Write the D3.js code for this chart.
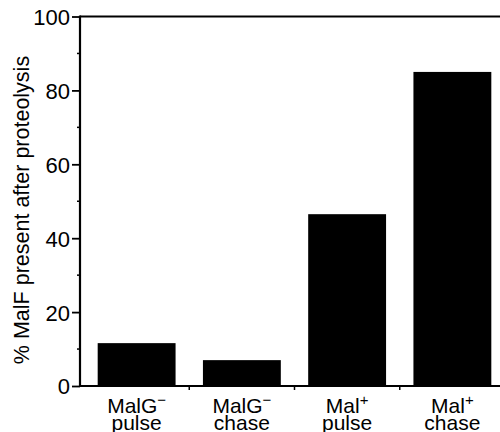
<!DOCTYPE html>
<html><head><meta charset="utf-8">
<script src="https://cdn.jsdelivr.net/npm/d3@7"></script>
<style>body{margin:0;background:#fff}svg{display:block}text{font-family:"Liberation Sans",Arial,sans-serif;fill:#000}</style>
</head><body>
<svg id="c" width="500" height="432"></svg>
<script>
const categories = ["MalG pulse", "MalG chase", "Mal pulse", "Mal chase"];
const labelTop = ["MalG", "MalG", "Mal", "Mal"];
const labelSup = ["\u2212", "\u2212", "+", "+"];
const labelBottom = ["pulse", "chase", "pulse", "chase"];
const values = [11.6, 7.0, 46.5, 85.0];
const yTicks = [0, 20, 40, 60, 80, 100];
const yMinor = [10, 30, 50, 70, 90];
const yTitle = "% MalF present after proteolysis";

const svg = d3.select("#c");
const x0 = 80, xEnd = 500;
const x = d3.scaleBand().domain(categories).range([84, 505]).paddingInner(0.26).paddingOuter(0.13);
const y = d3.scaleLinear().domain([0, 100]).range([386, 16.5]);

// bars
svg.selectAll("rect.bar").data(values).join("rect")
  .attr("x", (d, i) => x(categories[i])).attr("width", x.bandwidth())
  .attr("y", d => y(d)).attr("height", d => y(0) - y(d)).attr("fill", "#000");

// y axis
const ya = svg.append("g").attr("transform", `translate(${x0},0)`)
  .call(d3.axisLeft(y).tickValues(yTicks).tickSize(8).tickPadding(2));
ya.select(".domain").remove();
ya.selectAll("line").attr("stroke", "#000").attr("stroke-width", 1.8);
ya.selectAll("text").style("font-size", "22px").attr("dy", "0.36em").attr("font-family", "Liberation Sans, Arial, sans-serif");
svg.append("g").selectAll("line").data(yMinor).join("line")
  .attr("x1", x0 - 3).attr("x2", x0).attr("y1", d => y(d)).attr("y2", d => y(d))
  .attr("stroke", "#000").attr("stroke-width", 1.5);
svg.append("line").attr("x1", x0).attr("x2", x0).attr("y1", y(100) - 1).attr("y2", y(0) + 1)
  .attr("stroke", "#000").attr("stroke-width", 2.2);
// top and bottom lines
svg.append("line").attr("x1", x0).attr("x2", xEnd).attr("y1", y(100)).attr("y2", y(100)).attr("stroke", "#000").attr("stroke-width", 1.8);
svg.append("line").attr("x1", x0).attr("x2", xEnd).attr("y1", y(0)).attr("y2", y(0)).attr("stroke", "#000").attr("stroke-width", 1.8);

// x separators ticks
const step = x.step();
const seps = categories.slice(1).map(c => x(c) - x.paddingInner() * step / 2);
svg.append("g").selectAll("line").data(seps).join("line")
  .attr("x1", d => d).attr("x2", d => d).attr("y1", y(0)).attr("y2", y(0) + 4)
  .attr("stroke", "#000").attr("stroke-width", 1.5);

// x labels
const lab = svg.append("g").selectAll("text").data(categories).join("text")
  .attr("x", c => x(c) + x.bandwidth() / 2).attr("y", 413).attr("text-anchor", "middle")
  .style("font-size", "21px");
lab.append("tspan").text((c, i) => labelTop[i]);
lab.append("tspan").attr("dy", -8).style("font-size", "15px").text((c, i) => labelSup[i]);
svg.append("g").selectAll("text").data(categories).join("text")
  .attr("x", c => x(c) + x.bandwidth() / 2).attr("y", 430).attr("text-anchor", "middle")
  .style("font-size", "21px").text((c, i) => labelBottom[i]);

// y title
svg.append("text").attr("transform", "translate(29,210) rotate(-90)").attr("text-anchor", "middle")
  .style("font-size", "21.5px").text(yTitle);
</script>
</body></html>
